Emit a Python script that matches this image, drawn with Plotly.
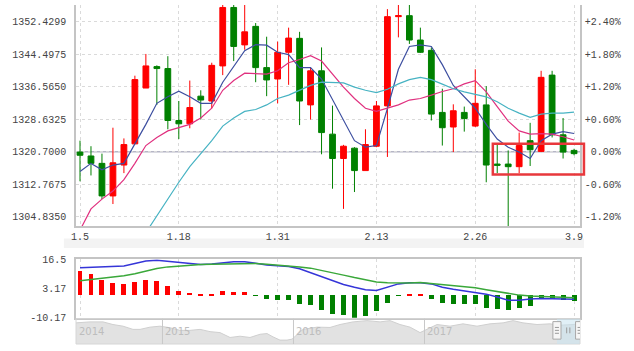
import plotly.graph_objects as go

# ---------------- data ----------------
days = ["1.5", "1.8", "1.9", "1.10", "1.11", "1.12", "1.15", "1.16", "1.17", "1.18",
        "1.19", "1.22", "1.23", "1.24", "1.25", "1.26", "1.29", "1.30", "1.31",
        "2.1", "2.2", "2.5", "2.6", "2.7", "2.8", "2.9", "2.12", "2.13", "2.14",
        "2.15", "2.16", "2.19", "2.20", "2.21", "2.22", "2.23", "2.26", "2.27", "2.28",
        "3.1", "3.2", "3.5", "3.6", "3.7", "3.8", "3.9"]
tick_days = ["1.5", "1.18", "1.31", "2.13", "2.26", "3.9"]

opens = [1320.65, 1319.70, 1317.90, 1309.96, 1317.49, 1322.65, 1336.26, 1341.48, 1341.01, 1328.35,
         1327.54, 1334.28, 1333.10, 1341.65, 1355.90, 1346.78, 1351.29, 1341.24, 1338.46, 1344.97,
         1348.37, 1332.15, 1340.46, 1325.02, 1319.08, 1321.60, 1316.14, 1322.08, 1331.91, 1353.66,
         1353.90, 1347.96, 1345.45, 1330.32, 1326.76, 1330.32, 1326.99, 1332.15, 1317.73, 1317.73,
         1317.09, 1323.43, 1320.82, 1339.41, 1324.86, 1321.06]
highs = [1323.43, 1322.08, 1320.27, 1326.59, 1323.98, 1339.27, 1344.57, 1341.79, 1344.02, 1333.10,
         1338.08, 1335.71, 1342.43, 1357.50, 1357.50, 1357.50, 1352.10, 1348.77, 1347.58, 1350.98,
         1349.96, 1341.24, 1346.16, 1331.98, 1322.41, 1321.84, 1326.21, 1333.10, 1355.49, 1357.50,
         1357.50, 1350.98, 1346.16, 1336.09, 1332.29, 1331.74, 1340.84, 1336.73, 1322.65, 1321.06,
         1325.40, 1327.78, 1340.46, 1340.46, 1328.96, 1321.46]
lows = [1313.53, 1314.95, 1309.18, 1307.99, 1315.52, 1322.65, 1336.26, 1332.15, 1326.21, 1323.83,
        1326.45, 1328.58, 1331.34, 1339.41, 1342.83, 1345.59, 1337.68, 1334.28, 1332.53, 1337.04,
        1327.23, 1328.58, 1320.11, 1311.72, 1306.81, 1310.91, 1316.14, 1321.84, 1319.46, 1348.61,
        1347.01, 1344.81, 1328.35, 1322.24, 1320.65, 1325.64, 1326.76, 1313.29, 1315.52, 1301.50,
        1315.52, 1317.26, 1320.65, 1324.21, 1319.08, 1319.87]
closes = [1319.87, 1317.90, 1309.96, 1318.04, 1322.48, 1338.32, 1341.65, 1341.01, 1328.35, 1327.54,
          1331.51, 1333.33, 1341.79, 1355.90, 1346.40, 1349.96, 1341.24, 1338.23, 1344.97, 1348.44,
          1333.10, 1340.46, 1325.40, 1319.08, 1322.08, 1316.14, 1322.48, 1331.91, 1353.66, 1353.90,
          1347.96, 1344.97, 1329.91, 1326.59, 1330.72, 1328.82, 1332.53, 1317.49, 1317.42, 1317.09,
          1322.24, 1321.22, 1338.87, 1324.86, 1320.65, 1320.27]

ma5 = [1315.90, 1317.90, 1316.31, 1317.49, 1317.90, 1322.65, 1327.40, 1332.53, 1334.12, 1335.47,
       1334.12, 1332.53, 1332.53, 1337.68, 1341.65, 1345.35, 1346.82, 1346.71, 1344.97, 1344.40,
       1341.24, 1341.24, 1338.46, 1333.41, 1328.18, 1323.43, 1321.84, 1322.24, 1331.27, 1340.84,
       1346.40, 1346.78, 1346.40, 1341.96, 1336.90, 1334.12, 1331.34, 1327.40, 1323.84, 1321.84,
       1320.65, 1319.08, 1323.43, 1325.02, 1325.64, 1325.17]
ma10 = [1301.60, 1306.81, 1309.18, 1311.15, 1313.93, 1317.90, 1322.24, 1324.21, 1325.81, 1326.59,
        1327.40, 1328.96, 1331.34, 1335.71, 1338.08, 1339.89, 1339.82, 1339.65, 1340.46, 1342.43,
        1343.21, 1344.16, 1342.83, 1339.65, 1336.49, 1333.71, 1331.34, 1330.56, 1331.34, 1332.15,
        1333.33, 1333.71, 1334.52, 1335.42, 1336.09, 1337.28, 1338.08, 1335.31, 1331.74, 1328.18,
        1325.81, 1325.02, 1325.16, 1325.02, 1324.38, 1323.60]
ma20 = [None, None, None, None, None, None, 1301.00, 1305.21, 1309.18, 1313.29,
        1317.09, 1320.27, 1323.43, 1326.99, 1328.96, 1330.56, 1331.03, 1332.15, 1333.71, 1334.52,
        1335.71, 1336.90, 1337.68, 1337.51, 1337.51, 1336.49, 1335.71, 1335.14, 1335.95, 1337.28,
        1338.32, 1338.87, 1338.32, 1337.21, 1336.09, 1335.31, 1334.66, 1334.12, 1332.93, 1331.34,
        1330.15, 1329.13, 1329.90, 1330.15, 1330.15, 1330.39]

prev_close = 1320.70
left_ticks = [1352.4299, 1344.4975, 1336.5650, 1328.6325, 1320.7000, 1312.7675, 1304.8350]
pct_ticks = [2.40, 1.80, 1.20, 0.60, 0.00, -0.60, -1.20]

macd_hist = [11.11, 9.60, 6.93, 5.60, 5.16, 6.22, 6.93, 6.49, 4.00, 1.91,
             1.02, 0.27, 0.71, 1.91, 1.47, 1.33, -0.15, -1.78, -2.22, -2.22,
             -4.18, -4.45, -6.67, -8.62, -9.20, -10.40, -9.65, -7.42, -3.42, -0.15,
             0.20, 0.20, -1.78, -3.42, -4.18, -4.18, -4.18, -5.65, -6.22, -6.67,
             -5.65, -4.89, -1.96, -1.96, -2.22, -2.53]
dif = [12.58, 12.80, 13.02, 13.25, 13.47, 14.58, 15.69, 16.00, 15.47, 14.80,
       14.36, 14.05, 14.36, 15.02, 15.38, 15.38, 14.58, 13.91, 13.56, 13.16,
       12.13, 10.36, 8.58, 6.80, 5.02, 3.69, 2.58, 2.22, 3.91, 5.25,
       5.78, 5.82, 5.25, 3.69, 2.80, 2.13, 1.47, 0.58, -0.76, -2.22,
       -2.22, -1.64, -1.42, -1.51, -1.64, -1.78]
dea = [6.67, 7.25, 7.69, 8.36, 9.02, 9.91, 11.02, 12.27, 13.02, 13.47,
       13.78, 14.05, 14.22, 14.36, 14.58, 14.76, 14.58, 14.22, 13.91, 13.60,
       13.02, 12.45, 11.47, 10.36, 9.25, 8.13, 7.02, 6.13, 5.78, 5.60,
       5.69, 5.91, 5.47, 4.89, 4.36, 3.91, 3.47, 2.58, 1.69, 0.80,
       0.13, -0.22, -0.44, -0.67, -0.89, -1.07]
macd_ticks = [16.5, 3.165, -10.17]
macd_ticktext = ["16.5", "3.17", "-10.17"]

nav_year = [2014.34, 2014.447, 2014.546, 2014.622, 2014.699, 2014.775, 2014.829, 2014.905, 2014.981,
            2015.058, 2015.134, 2015.210, 2015.287, 2015.363, 2015.439, 2015.516, 2015.592, 2015.668,
            2015.745, 2015.798, 2015.844, 2015.897, 2015.951, 2015.989,
            2016.073, 2016.180, 2016.279, 2016.355, 2016.455, 2016.561, 2016.661, 2016.737, 2016.813,
            2016.890, 2016.966,
            2017.019, 2017.096, 2017.195, 2017.294, 2017.401, 2017.500, 2017.600, 2017.676, 2017.752,
            2017.859, 2017.958,
            2018.035, 2018.134, 2018.187]
nav_level = [21.7, 22.7, 22.7, 20, 18.3, 15, 15, 17.3, 18.3,
             16.7, 14, 14, 15, 12.7, 11.7, 6.7, 8, 6.7, 10, 10.7, 7.3, 4, 4, 5,
             15, 17.3, 17, 20, 22.7, 24, 22.7, 24, 20, 17.3, 11.7,
             15, 20, 18.3, 20.7, 18.3, 20.7, 21.7, 24, 21.7, 20, 20.7,
             19.3, 20, 20.7]
nav_years_lbl = [2014, 2015, 2016, 2017]
sel_start, sel_end = 2018.011, 2018.184   # Jan 5 .. Mar 9 2018

# highlight box (category index range, price range)
box_idx = (37.6, 45.9)
box_price = (1315.2, 1322.7)

# ---------------- layout constants ----------------
XR = [-0.364, 45.54]
YR = [1302.6, 1356.5]
PR = [(YR[0] / prev_close - 1) * 100, (YR[1] / prev_close - 1) * 100]
MAIN_DOM = [0.3477, 1.0]
MACD_DOM = [0.0776, 0.25]
NAV_DOM = [0.0, 0.0747]
NAVR = [2014.34, 2018.187]

FONT = "Liberation Mono, DejaVu Sans Mono, monospace"
TXT = "#444444"
GRID = "#dadada"
BORDER = "#c4c4c4"
RED = "#ff0000"
GREEN = "#008000"

fig = go.Figure()

fig.add_trace(go.Candlestick(
    x=days, open=opens, high=highs, low=lows, close=closes,
    increasing=dict(line=dict(color=RED, width=1), fillcolor=RED),
    decreasing=dict(line=dict(color=GREEN, width=1), fillcolor=GREEN),
    whiskerwidth=0, xaxis="x", yaxis="y", showlegend=False, hoverinfo="skip"))

for vals, col in [(ma5, "#3d4fa0"), (ma10, "#e0307f"), (ma20, "#47b3c3")]:
    fig.add_trace(go.Scatter(x=days, y=vals, mode="lines", line=dict(color=col, width=1.2),
                             xaxis="x", yaxis="y", showlegend=False, hoverinfo="skip",
                             connectgaps=False))

# invisible trace for percent axis
fig.add_trace(go.Scatter(x=days, y=[(c / prev_close - 1) * 100 for c in closes], mode="lines",
                         line=dict(width=0), opacity=0, xaxis="x", yaxis="y4",
                         showlegend=False, hoverinfo="skip"))

# MACD
fig.add_trace(go.Bar(x=days, y=macd_hist, width=0.45,
                     marker=dict(color=[RED if v > 0 else GREEN for v in macd_hist], line=dict(width=0)),
                     xaxis="x2", yaxis="y2", showlegend=False, hoverinfo="skip"))
fig.add_trace(go.Scatter(x=days, y=dif, mode="lines", line=dict(color="#3535d8", width=1.5),
                         xaxis="x2", yaxis="y2", showlegend=False, hoverinfo="skip"))
fig.add_trace(go.Scatter(x=days, y=dea, mode="lines", line=dict(color="#3aa83a", width=1.5),
                         xaxis="x2", yaxis="y2", showlegend=False, hoverinfo="skip"))

# navigator
fig.add_trace(go.Scatter(x=nav_year, y=nav_level, mode="lines", fill="tozeroy",
                         fillcolor="#e2e2e2", line=dict(color="#cfcfcf", width=1),
                         xaxis="x3", yaxis="y3", showlegend=False, hoverinfo="skip"))

tickfont = dict(family=FONT, size=10, color=TXT)

fig.update_layout(
    width=634, height=351,
    margin=dict(l=76, r=54, t=0, b=3),
    paper_bgcolor="white", plot_bgcolor="white",
    bargap=0,
    boxgap=0.25,
    xaxis=dict(domain=[0, 1], anchor="y", type="category", range=XR,
               tickvals=tick_days, ticktext=tick_days, tickfont=tickfont,
               showgrid=True, gridcolor=GRID, griddash="dot", gridwidth=1,
               showline=True, linecolor=BORDER, linewidth=1.5, ticks="",
               rangeslider=dict(visible=False), zeroline=False, fixedrange=True),
    yaxis=dict(domain=MAIN_DOM, anchor="x", range=YR,
               tickvals=left_ticks, ticktext=[f"{v:.4f}" for v in left_ticks],
               tickfont=tickfont, ticklabelstandoff=6,
               showgrid=True, gridcolor=GRID, griddash="dot", gridwidth=1,
               showline=True, linecolor=BORDER, linewidth=1.5, ticks="", zeroline=False),
    yaxis4=dict(overlaying="y", side="right", anchor="x", range=PR,
                tickvals=pct_ticks,
                ticktext=[("+" if v > 0 else ("\u00a0" if v == 0 else "")) + f"{v:.2f}%" for v in pct_ticks],
                tickfont=tickfont, ticklabelstandoff=1,
                showgrid=False, showline=True, linecolor=BORDER, linewidth=1.5,
                ticks="", zeroline=False),
    xaxis2=dict(domain=[0, 1], anchor="y2", type="category", matches="x",
                tickvals=tick_days, showticklabels=False,
                showgrid=True, gridcolor=GRID, griddash="dot", gridwidth=1,
                showline=True, mirror=True, linecolor=BORDER, linewidth=1.5, ticks="",
                zeroline=False),
    yaxis2=dict(domain=MACD_DOM, anchor="x2", range=[-10.17, 16.5],
                tickvals=macd_ticks, ticktext=macd_ticktext, tickfont=tickfont,
                ticklabelstandoff=6, showgrid=False, showline=True, mirror=True,
                linecolor=BORDER, linewidth=1.5, ticks="", zeroline=False),
    xaxis3=dict(domain=[0, 1], anchor="y3", range=NAVR, showticklabels=False,
                showgrid=False, showline=False, zeroline=False, ticks=""),
    yaxis3=dict(domain=NAV_DOM, anchor="x3", range=[0, 26], showticklabels=False,
                showgrid=False, showline=False, zeroline=False, ticks=""),
)

shapes = []
# previous close reference line
shapes.append(dict(type="line", xref="x domain", yref="y", x0=0, x1=1, y0=prev_close, y1=prev_close,
                   line=dict(color="#b6b6c6", width=1.5), layer="below"))

# highlight box, converted to paper coordinates so it may overhang the plot edge
def xpaper(i):
    return (i - XR[0]) / (XR[1] - XR[0])

def ypaper(p):
    return MAIN_DOM[0] + (p - YR[0]) / (YR[1] - YR[0]) * (MAIN_DOM[1] - MAIN_DOM[0])

shapes.append(dict(type="rect", xref="paper", yref="paper",
                   x0=xpaper(box_idx[0]), x1=xpaper(box_idx[1]),
                   y0=ypaper(box_price[0]), y1=ypaper(box_price[1]),
                   line=dict(color="#e8383c", width=2.5), fillcolor="rgba(0,0,0,0)"))

# faint strip under x labels
shapes.append(dict(type="rect", xref="paper", yref="paper", x0=-0.024, x1=1.008,
                   y0=0.283, y1=0.311, line=dict(width=0), fillcolor="#f3f3f3", layer="below"))

# navigator border and year lines
shapes.append(dict(type="rect", xref="x3 domain", yref="y3 domain", x0=0, x1=1, y0=0, y1=1,
                   line=dict(color="#d6d6d6", width=1)))
for yv in nav_years_lbl[1:]:
    shapes.append(dict(type="line", xref="x3", yref="y3 domain", x0=yv, x1=yv, y0=0, y1=1,
                       line=dict(color="#c8c8c8", width=1)))
# selection region and handles
shapes.append(dict(type="rect", xref="x3", yref="y3", x0=sel_start, x1=sel_end, y0=0, y1=26,
                   line=dict(width=0), fillcolor="rgba(200,228,240,0.55)"))
hw = 0.031
for hx in (sel_start, sel_end):
    shapes.append(dict(type="rect", xref="x3", yref="y3", x0=hx - hw, x1=hx + hw, y0=5, y1=23,
                       line=dict(color="#a8a8a8", width=1), fillcolor="#f6f6f6"))
    for ly in (11, 14, 17):
        shapes.append(dict(type="line", xref="x3", yref="y3", x0=hx - hw * 0.5, x1=hx + hw * 0.5,
                           y0=ly, y1=ly, line=dict(color="#9a9a9a", width=1)))
mid = (sel_start + sel_end) / 2
for dx in (-0.012, 0.012):
    shapes.append(dict(type="line", xref="x3", yref="y3", x0=mid + dx, x1=mid + dx, y0=11, y1=17,
                       line=dict(color="#9a9a9a", width=1)))
fig.update_layout(shapes=shapes)

annotations = []
for yv in nav_years_lbl:
    annotations.append(dict(x=max(yv, NAVR[0]), y=13, xref="x3", yref="y3", text=str(yv),
                            showarrow=False, xanchor="left", yanchor="middle", xshift=1,
                            font=dict(family="DejaVu Sans, sans-serif", size=10, color="#bdbdbd")))
fig.update_layout(annotations=annotations)

fig.write_html("out.html")
